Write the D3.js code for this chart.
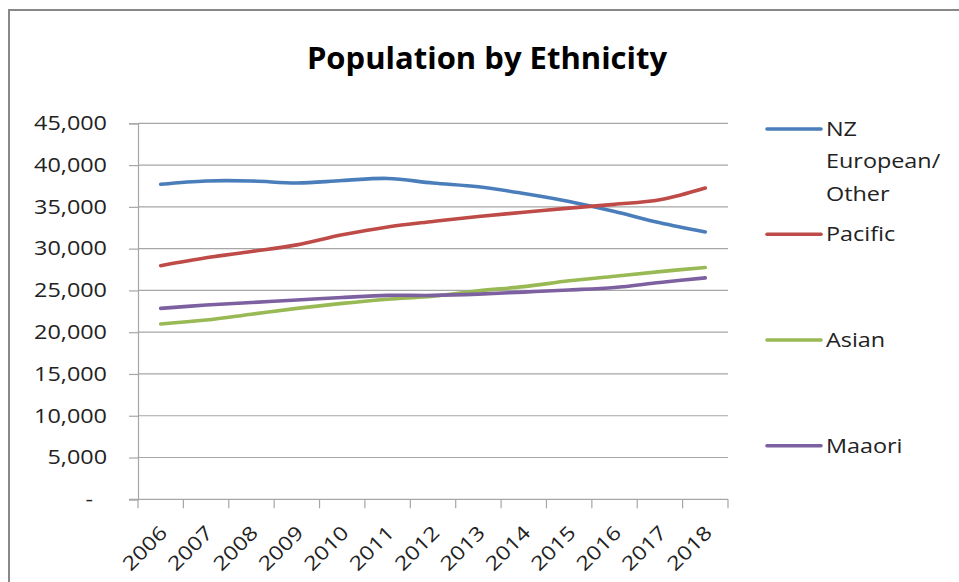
<!DOCTYPE html>
<html>
<head>
<meta charset="utf-8">
<script src="https://cdn.jsdelivr.net/npm/d3@7"></script>
<style>
  html, body { margin: 0; padding: 0; background: #fff; }
  svg { display: block; font-family: "Open Sans", "Noto Sans", sans-serif; }
</style>
</head>
<body>
<svg id="chart" width="959" height="582"></svg>
<script>
// Population by ethnicity, 2006–2018
const years = ["2006","2007","2008","2009","2010","2011","2012","2013","2014","2015","2016","2017","2018"];
const nzEuropean = [37700, 38100, 38100, 37850, 38150, 38400, 37850, 37400, 36600, 35650, 34450, 33100, 32000];
const pacific    = [27950, 28900, 29650, 30450, 31650, 32600, 33250, 33850, 34350, 34850, 35300, 35850, 37250];
const asian      = [20980, 21450, 22150, 22850, 23450, 23950, 24300, 24950, 25450, 26150, 26700, 27250, 27750];
const maaori     = [22850, 23250, 23550, 23850, 24150, 24400, 24400, 24550, 24800, 25050, 25350, 25950, 26500];
const yTicks = [0, 5000, 10000, 15000, 20000, 25000, 30000, 35000, 40000, 45000];

const seriesNames  = [["NZ", "European/", "Other"], ["Pacific"], ["Asian"], ["Maaori"]];
const seriesValues = [nzEuropean, pacific, asian, maaori];
const seriesColors = ["#4a7ebb", "#be4b48", "#98b954", "#7d60a0"];

const FONT_SIZE = 19.5;
const STRETCH = 1.2;   // labels are set a little wide

const svg = d3.select("#chart");

// outer chart frame
svg.append("rect")
  .attr("x", 9).attr("y", 10).attr("width", 980).attr("height", 600)
  .attr("fill", "#fff").attr("stroke", "#888").attr("stroke-width", 2);

const plot = { left: 138, right: 728, top: 123.3, bottom: 499.3 };

const x = d3.scaleBand().domain(years).range([plot.left, plot.right]).padding(0);
const y = d3.scaleLinear().domain([0, 45000]).range([plot.bottom, plot.top]);

// horizontal gridlines
svg.append("g")
  .selectAll("line")
  .data(yTicks.filter(d => d > 0))
  .join("line")
  .attr("x1", plot.left).attr("x2", plot.right)
  .attr("y1", d => y(d)).attr("y2", d => y(d))
  .attr("stroke", "#a6a6a6").attr("stroke-width", 1.2);

// y axis (line and tick marks from d3.axisLeft, labels set separately)
const yAxis = d3.axisLeft(y).tickValues(yTicks).tickSize(9).tickFormat("");
const gy = svg.append("g").attr("transform", `translate(${plot.left},0)`).call(yAxis);
gy.select(".domain").attr("stroke", "#a6a6a6").attr("stroke-width", 1.2);
gy.selectAll(".tick line").attr("stroke", "#a6a6a6").attr("stroke-width", 1.2);

const yFmt = d3.format(",");
svg.append("g")
  .selectAll("text")
  .data(yTicks)
  .join("text")
  .attr("transform", d => `translate(${d === 0 ? 93 : 107},${y(d)}) scale(${STRETCH},1)`)
  .attr("text-anchor", "end")
  .attr("dy", "0.35em")
  .attr("font-size", FONT_SIZE)
  .attr("fill", "#222")
  .text(d => d === 0 ? "-" : yFmt(d));

// x axis: ticks sit on band boundaries
const gx = svg.append("g").attr("transform", `translate(0,${plot.bottom})`);
gx.append("line")
  .attr("x1", plot.left - 9).attr("x2", plot.right)
  .attr("stroke", "#a6a6a6").attr("stroke-width", 1.2);
const boundaries = years.map(d => x(d)).concat([x(years[years.length - 1]) + x.bandwidth()]);
gx.selectAll("line.tick")
  .data(boundaries)
  .join("line").attr("class", "tick")
  .attr("x1", d => d).attr("x2", d => d)
  .attr("y1", 0).attr("y2", 9)
  .attr("stroke", "#a6a6a6").attr("stroke-width", 1.2);
gx.selectAll("text")
  .data(years)
  .join("text")
  .attr("transform", d => `translate(${x(d) + x.bandwidth() / 2 + 3},${30}) rotate(-45) scale(${STRETCH},1)`)
  .attr("text-anchor", "end")
  .attr("dy", "0.35em")
  .attr("font-size", FONT_SIZE)
  .attr("fill", "#222")
  .text(d => d);

// series lines
const line = d3.line()
  .x((d, i) => x(years[i]) + x.bandwidth() / 2)
  .y(d => y(d))
  .curve(d3.curveCatmullRom.alpha(0.5));

svg.append("g")
  .selectAll("path")
  .data(seriesValues)
  .join("path")
  .attr("d", d => line(d))
  .attr("fill", "none")
  .attr("stroke", (d, i) => seriesColors[i])
  .attr("stroke-width", 3.6)
  .attr("stroke-linecap", "round")
  .attr("stroke-linejoin", "round");

// title
svg.append("text")
  .attr("x", 487).attr("y", 69)
  .attr("text-anchor", "middle")
  .attr("font-size", 31)
  .attr("font-weight", "bold")
  .attr("fill", "#000")
  .text("Population by Ethnicity");

// legend
const legendY = [129, 234.3, 340, 445.7];
const legend = svg.append("g");
seriesNames.forEach((lines, i) => {
  const g = legend.append("g").attr("transform", `translate(0,${legendY[i]})`);
  g.append("line")
    .attr("x1", 767).attr("x2", 821)
    .attr("stroke", seriesColors[i]).attr("stroke-width", 3.6)
    .attr("stroke-linecap", "round");
  g.append("text")
    .attr("transform", `translate(826,0) scale(${STRETCH},1)`)
    .attr("font-size", FONT_SIZE).attr("fill", "#222")
    .selectAll("tspan")
    .data(lines)
    .join("tspan")
    .attr("x", 0)
    .attr("y", (d, j) => j * 32.5)
    .attr("dy", "0.35em")
    .text(d => d);
});
</script>
</body>
</html>
